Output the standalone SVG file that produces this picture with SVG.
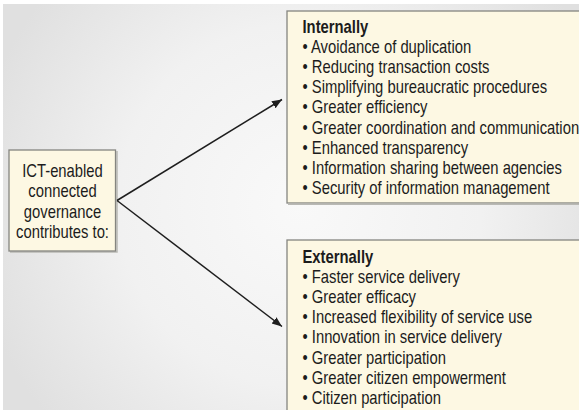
<svg xmlns="http://www.w3.org/2000/svg" width="579" height="410" viewBox="0 0 579 410">
  <defs>
    <style>
      .box { fill: #fdf8e3; stroke: #858580; stroke-width: 1.3; }
      .shadow { fill: none; stroke: #b9b9b4; stroke-width: 1.5; }
      .txt { font-family: "Liberation Sans", Arial, sans-serif; font-size: 18.5px; fill: #1c1c1c; }
      .head { font-weight: bold; }
      .link { stroke: #1e1e1e; stroke-width: 1.5; fill: none; marker-end: url(#arrow); }
    </style>
    <radialGradient id="bgGrad" cx="300" cy="205" r="330" gradientUnits="userSpaceOnUse">
      <stop offset="0" stop-color="#f9f9f9"/>
      <stop offset="0.55" stop-color="#f1f1f1"/>
      <stop offset="1" stop-color="#e0e0e0"/>
    </radialGradient>
    <marker id="arrow" markerUnits="userSpaceOnUse" markerWidth="12" markerHeight="10" refX="10" refY="4" orient="auto">
      <path d="M0,0 L10,4 L0,8 Z" fill="#1e1e1e"/>
    </marker>
  </defs>

  <!-- backdrop -->
  <rect x="0" y="0" width="579" height="410" fill="#ffffff"/>
  <rect x="3" y="4" width="576" height="406" fill="url(#bgGrad)"/>

  <!-- source node -->
  <g id="source">
    <path class="shadow" d="M117,151 V252 H10"/>
    <rect class="box" x="9" y="150" width="106.5" height="101"/>
    <g class="txt" transform="translate(62.5,0) scale(0.8,1)" text-anchor="middle">
      <text x="0" y="177">ICT-enabled</text>
      <text x="0" y="197.5">connected</text>
      <text x="0" y="218">governance</text>
      <text x="0" y="238.5">contributes to:</text>
    </g>
  </g>

  <!-- internal benefits -->
  <g id="internal">
    <rect class="box" x="287" y="11" width="300" height="192"/>
    <path class="shadow" d="M288,204.2 H579"/>
    <g class="txt" transform="translate(302.5,0) scale(0.8,1)">
      <text class="head" x="0" y="32.7">Internally</text>
      <text x="0" y="52.9">• Avoidance of duplication</text>
      <text x="0" y="73.1">• Reducing transaction costs</text>
      <text x="0" y="93.3">• Simplifying bureaucratic procedures</text>
      <text x="0" y="113.5">• Greater efficiency</text>
      <text x="0" y="133.7">• Greater coordination and communication</text>
      <text x="0" y="153.9">• Enhanced transparency</text>
      <text x="0" y="174.1">• Information sharing between agencies</text>
      <text x="0" y="194.3">• Security of information management</text>
    </g>
  </g>

  <!-- external benefits -->
  <g id="external">
    <rect class="box" x="287" y="240" width="300" height="200"/>
    <g class="txt" transform="translate(302.5,0) scale(0.8,1)">
      <text class="head" x="0" y="262.7">Externally</text>
      <text x="0" y="282.9">• Faster service delivery</text>
      <text x="0" y="303.1">• Greater efficacy</text>
      <text x="0" y="323.3">• Increased flexibility of service use</text>
      <text x="0" y="343.5">• Innovation in service delivery</text>
      <text x="0" y="363.7">• Greater participation</text>
      <text x="0" y="383.9">• Greater citizen empowerment</text>
      <text x="0" y="404.1">• Citizen participation</text>
    </g>
  </g>

  <!-- connectors -->
  <g id="connectors">
    <line class="link" x1="117" y1="200.5" x2="282" y2="99.5"/>
    <line class="link" x1="117" y1="200.5" x2="282" y2="326.5"/>
  </g>
</svg>
